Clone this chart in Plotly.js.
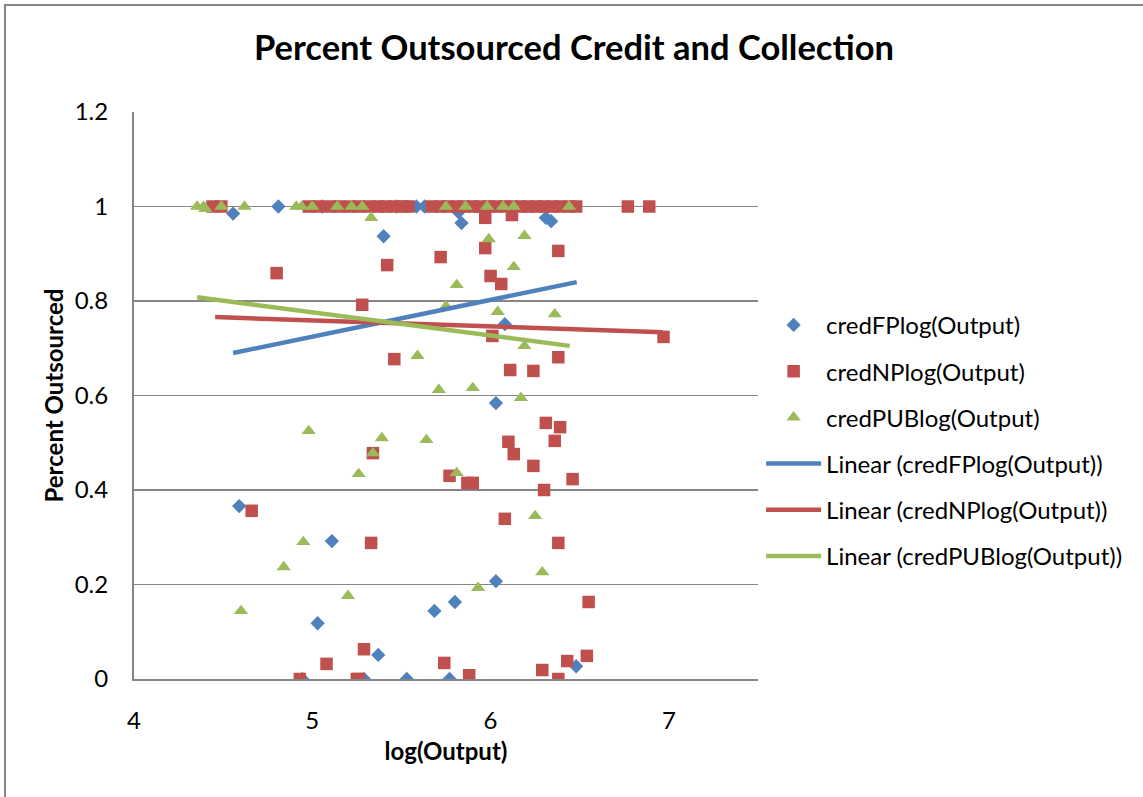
<!DOCTYPE html>
<html>
<head>
<meta charset="utf-8">
<script src="https://cdn.plot.ly/plotly-3.0.1.min.js"></script>
<style>
  html, body { margin: 0; padding: 0; background: #fff; }
  #frame { position: absolute; left: 4px; top: 4px; width: 1200px; height: 900px;
           border-left: 2px solid #868686; border-top: 2px solid #868686; box-sizing: border-box; }
  #chart { position: absolute; left: 0; top: 0; width: 1143px; height: 797px; }
</style>
</head>
<body>
<div id="frame"></div>
<div id="chart"></div>
<script>
// credFPlog(Output)
const fpX = [4.556, 4.81, 5.056, 5.472, 5.584, 5.63, 5.82, 5.837, 6.31, 6.34, 5.40,
             6.08, 6.03, 4.59, 5.11, 6.03, 5.685, 5.80, 5.03, 5.37, 4.944, 5.29, 5.53, 5.77, 6.48];
const fpY = [0.985, 1, 1, 1, 1, 1, 0.988, 0.965, 0.976, 0.969, 0.937,
             0.751, 0.584, 0.366, 0.292, 0.207, 0.144, 0.163, 0.118, 0.051, 0, 0, 0, 0, 0.027];

// credNPlog(Output)
const npX = [4.44, 4.49, 4.98, 5.03, 5.10, 5.15, 5.21, 5.26, 5.32, 5.37, 5.41, 5.46, 5.51, 5.54,
             5.67, 5.72, 5.76, 5.81, 5.85, 5.90, 5.94, 5.99, 6.03, 6.08, 6.12, 6.17, 6.21, 6.26,
             6.30, 6.35, 6.39, 6.44, 6.48, 6.77, 6.89,
             5.97, 6.12, 5.97, 5.72, 6.38, 6.00, 6.06, 6.01, 6.97, 6.38, 6.11, 6.24, 4.80, 5.42,
             5.28, 5.46, 6.31, 6.39, 6.36, 6.10, 6.13, 6.24, 5.77, 5.87, 5.90, 6.46, 6.30, 6.08,
             6.38, 5.34, 4.66, 5.33, 5.29, 5.08, 4.93, 5.25, 5.26, 5.74, 5.88, 6.29, 6.38, 6.43,
             6.54, 6.55];
const npY = [1, 1, 1, 1, 1, 1, 1, 1, 1, 1, 1, 1, 1, 1,
             1, 1, 1, 1, 1, 1, 1, 1, 1, 1, 1, 1, 1, 1,
             1, 1, 1, 1, 1, 1, 1,
             0.976, 0.982, 0.912, 0.893, 0.906, 0.853, 0.836, 0.726, 0.724, 0.681, 0.654, 0.652, 0.859, 0.876,
             0.792, 0.677, 0.542, 0.533, 0.504, 0.502, 0.476, 0.451, 0.430, 0.415, 0.415, 0.423, 0.400, 0.339,
             0.288, 0.478, 0.356, 0.288, 0.063, 0.032, 0, 0, 0, 0.034, 0.008, 0.019, 0, 0.038,
             0.049, 0.163];

// credPUBlog(Output)
const pubX = [4.354, 4.39, 4.40, 4.49, 4.62, 4.91, 4.94, 5.00, 5.14, 5.22, 5.28, 5.33, 5.75, 5.86,
              5.98, 6.07, 6.13, 6.44,
              5.99, 6.19, 6.13, 5.81, 5.75, 6.04, 6.36, 6.19, 5.59, 5.71, 4.98, 5.39, 5.64, 5.34,
              5.26, 4.95, 4.84, 5.90, 6.17, 5.81, 6.25, 6.29, 5.20, 4.60, 5.93];
const pubY = [1, 1, 0.995, 1, 1, 1, 1, 1, 1, 1, 1, 0.976, 1, 1,
              1, 1, 1, 1,
              0.931, 0.938, 0.872, 0.834, 0.789, 0.777, 0.772, 0.705, 0.684, 0.612, 0.525, 0.510, 0.506, 0.478,
              0.434, 0.290, 0.237, 0.616, 0.595, 0.436, 0.345, 0.226, 0.176, 0.144, 0.193];

// Linear trendlines (endpoints)
const trendFPX = [4.556, 6.483];
const trendFPY = [0.690, 0.840];
const trendNPX = [4.455, 6.966];
const trendNPY = [0.766, 0.734];
const trendPUBX = [4.354, 6.444];
const trendPUBY = [0.808, 0.705];

const names = ['credFPlog(Output)', 'credNPlog(Output)', 'credPUBlog(Output)',
               'Linear (credFPlog(Output))', 'Linear (credNPlog(Output))', 'Linear (credPUBlog(Output))'];

const BLUE = '#4F81BD', RED = '#C0504D', GREEN = '#9BBB59';
const FONT = 'Lato, "Open Sans", sans-serif';

const traces = [
  {x: fpX, y: fpY, name: names[0], type: 'scatter', mode: 'markers', legendgroup: 'a',
   marker: {symbol: 'diamond', size: 11, color: BLUE}},
  {x: npX, y: npY, name: names[1], type: 'scatter', mode: 'markers', legendgroup: 'b',
   marker: {symbol: 'square', size: 12.5, color: RED}},
  {x: pubX, y: pubY, name: names[2], type: 'scatter', mode: 'markers', legendgroup: 'c',
   marker: {symbol: 'triangle-up', size: 12.5, color: GREEN}},
  {x: trendFPX, y: trendFPY, name: names[3], type: 'scatter', mode: 'lines', legendgroup: 'd',
   line: {color: BLUE, width: 4.5}},
  {x: trendNPX, y: trendNPY, name: names[4], type: 'scatter', mode: 'lines', legendgroup: 'e',
   line: {color: RED, width: 4.5}},
  {x: trendPUBX, y: trendPUBY, name: names[5], type: 'scatter', mode: 'lines', legendgroup: 'f',
   line: {color: GREEN, width: 4.5}}
];

const layout = {
  width: 1143, height: 797,
  margin: {l: 134, r: 385, t: 112, b: 118, pad: 0, autoexpand: false},
  paper_bgcolor: 'rgba(0,0,0,0)',
  plot_bgcolor: 'rgba(0,0,0,0)',
  font: {family: FONT, color: '#000', size: 24},
  title: {text: '<b>Percent Outsourced Credit and Collection</b>', font: {size: 34.5, family: FONT},
          xref: 'container', yref: 'container', x: 574 / 1143, xanchor: 'center',
          y: 1 - 48 / 797, yanchor: 'middle'},
  xaxis: {range: [4, 7.5], dtick: 1, tick0: 4, showgrid: false, zeroline: false,
          showline: true, linecolor: '#868686', linewidth: 2, ticks: '',
          tickfont: {size: 24}, ticklabelstandoff: 19,
          title: {text: '<b>log(Output)</b>', font: {size: 24}, standoff: 10}},
  yaxis: {range: [0, 1.2], dtick: 0.2, tick0: 0, showgrid: true, gridcolor: '#868686', gridwidth: 1.5,
          zeroline: false, showline: true, linecolor: '#868686', linewidth: 2, ticks: '',
          tickfont: {size: 24}, tickformat: '~g', ticklabelstandoff: 19,
          title: {text: '<b>Percent Outsourced</b>', font: {size: 24}, standoff: 4}},
  showlegend: true,
  legend: {x: 1.005, xanchor: 'left', y: 0.42, yanchor: 'middle', font: {size: 24},
           tracegroupgap: 12, itemwidth: 55, bgcolor: 'rgba(0,0,0,0)'}
};

Plotly.newPlot('chart', traces, layout, {displayModeBar: false, staticPlot: true});
</script>
</body>
</html>
